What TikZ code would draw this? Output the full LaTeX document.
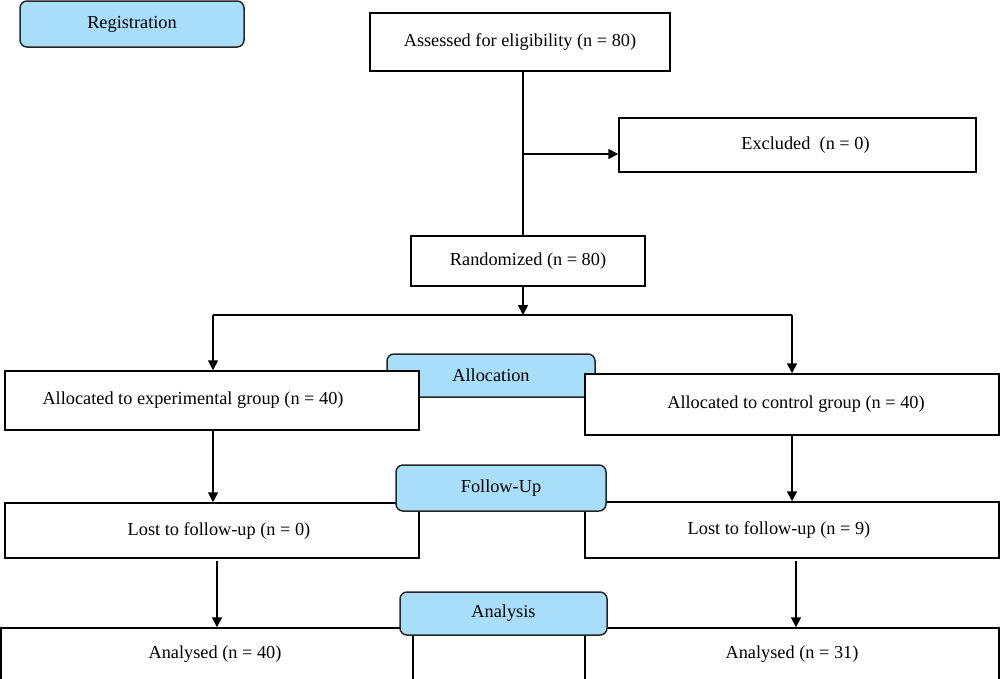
\documentclass[tikz,border=0pt]{standalone}
\usepackage{fontspec}
\setmainfont{Liberation Serif}
\usetikzlibrary{arrows.meta}
\definecolor{phase}{HTML}{A9DEFB}
\begin{document}
\begin{tikzpicture}[x=1pt,y=-1pt,
  font=\fontsize{18.3}{21}\selectfont,
  box/.style={draw=black, fill=white, line width=1.5pt, inner sep=0pt},
  phasebox/.style={draw=black!85, fill=phase, line width=1.5pt, rounded corners=7pt, inner sep=0pt},
  conn/.style={line width=1.7pt},
  arr/.style={conn, -{Triangle[length=10pt,width=10pt]}}]
\useasboundingbox (0,0) rectangle (1000,678);
% phase label behind boxes
\node[phasebox, minimum width=208pt, minimum height=43pt] (alloc) at (491,375.5) {Allocation};
% boxes
\node[phasebox, minimum width=224pt, minimum height=46pt] (reg) at (132,24) {Registration};
\node[box, minimum width=300pt, minimum height=58pt] (assess) at (520,42) {Assessed for eligibility (n = 80)};
\node[box, minimum width=357pt, minimum height=54pt] (excl) at (797.5,145) {\hspace*{16pt}Excluded\ \ (n = 0)};
\node[box, minimum width=234pt, minimum height=50pt] (rand) at (528,261) {Randomized (n = 80)};
\node[box, minimum width=414pt, minimum height=59pt] (alexp) at (212,400.5) {Allocated to experimental group (n = 40)\hspace*{38pt}};
\node[box, minimum width=414pt, minimum height=61pt] (alctl) at (792,404.5) {\hspace*{8pt}Allocated to control group (n = 40)};
\node[box, minimum width=414pt, minimum height=55pt] (lostexp) at (212,530.5) {\hspace*{14pt}Lost to follow-up (n = 0)};
\node[box, minimum width=414pt, minimum height=56pt] (lostctl) at (792,530) {Lost to follow-up (n = 9)\hspace*{26pt}};
\node[box, minimum width=412pt, minimum height=52pt] (anexp) at (207,654) {\hspace*{16pt}Analysed (n = 40)};
\node[box, minimum width=414pt, minimum height=52pt] (anctl) at (792,654) {Analysed (n = 31)};
% phase labels in front
\node[phasebox, minimum width=210pt, minimum height=46pt] (follow) at (501,488) {Follow-Up};
\node[phasebox, minimum width=207pt, minimum height=43pt] (analysis) at (503.5,613.5) {Analysis};
% connectors
\coordinate (split) at (523,154);
\coordinate (bend) at (523,315);
\coordinate (bl) at (213,315);
\coordinate (br) at (792,315);
\draw[conn] (assess.south -| split) -- (rand.north -| split);
\draw[arr] (split) -- (excl.west |- split);
\draw[arr] (rand.south -| bend) -- (bend);
\draw[conn] (bl) -- (br);
\draw[arr] (bl) -- (alexp.north -| bl);
\draw[arr] (br) -- (alctl.north -| br);
\draw[arr] (213,430) -- (lostexp.north -| 213,0);
\draw[arr] (792,435) -- (lostctl.north -| 792,0);
\draw[arr] (217,561) -- (anexp.north -| 217,0);
\draw[arr] (796,561) -- (anctl.north -| 796,0);
\end{tikzpicture}
\end{document}
